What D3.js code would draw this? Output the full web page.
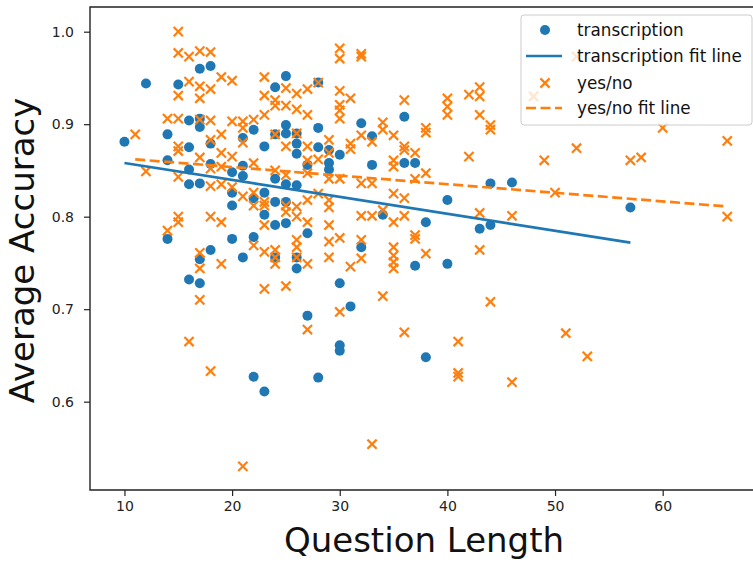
<!doctype html>
<html>
<head>
<meta charset="utf-8">
<title>Accuracy vs question length</title>
<script src="https://cdn.jsdelivr.net/npm/d3@7"></script>
<style>
  body { margin: 0; background: #fff; }
  svg { font-family: "DejaVu Sans", sans-serif; }
</style>
</head>
<body>
<svg width="753" height="562"></svg>
<script>
// transcription questions: length / accuracy
var transX = [10, 12, 14, 14, 14, 15, 16, 16, 16, 16, 16, 17, 17, 17, 17, 17, 17, 18, 18, 18, 18,
  20, 20, 20, 20, 21, 21, 21, 21, 22, 22, 22, 22, 23, 23, 23, 23, 24, 24, 24, 24, 24, 24,
  25, 25, 25, 25, 25, 25, 26, 26, 26, 26, 26, 26, 27, 27, 27, 28, 28, 28, 28, 29, 29, 29,
  30, 30, 30, 30, 31, 32, 32, 33, 33, 34, 36, 36, 37, 37, 38, 38, 40, 40, 43, 44, 44, 46, 57];
var transY = [0.881, 0.944, 0.889, 0.861, 0.776, 0.943, 0.904, 0.875, 0.851, 0.835, 0.732,
  0.960, 0.906, 0.897, 0.836, 0.754, 0.728, 0.963, 0.879, 0.857, 0.764,
  0.848, 0.826, 0.812, 0.776, 0.885, 0.855, 0.844, 0.756, 0.894, 0.820, 0.778, 0.627,
  0.876, 0.826, 0.802, 0.611, 0.940, 0.889, 0.841, 0.816, 0.791, 0.756,
  0.952, 0.899, 0.890, 0.835, 0.816, 0.793, 0.890, 0.879, 0.868, 0.834, 0.756, 0.744,
  0.856, 0.782, 0.693, 0.945, 0.896, 0.875, 0.626, 0.872, 0.858, 0.851,
  0.867, 0.728, 0.661, 0.655, 0.703, 0.901, 0.767, 0.887, 0.856, 0.802, 0.908, 0.858,
  0.858, 0.747, 0.794, 0.648, 0.818, 0.749, 0.787, 0.836, 0.791, 0.837, 0.810];

// yes/no questions
var ynX = [11, 12, 14, 14,
  15, 15, 15, 15, 15, 15, 15, 15, 15,
  16, 16, 16,
  17, 17, 17, 17, 17, 17, 17, 17,
  18, 18, 18, 18, 18, 18, 18, 18,
  19, 19, 19, 19, 19, 19, 19,
  20, 20, 20, 20,
  21, 21, 21, 21, 21,
  22, 22, 22, 22, 22,
  23, 23, 23, 23, 23, 23, 23, 23,
  24, 24, 24, 24, 24, 24, 24,
  25, 25, 25, 25, 25, 25, 25,
  26, 26, 26, 26, 26, 26, 26, 26,
  27, 27, 27, 27, 27, 27, 27, 27, 27,
  28, 28, 28,
  29, 29, 29, 29, 29, 29, 29, 29,
  30, 30, 30, 30, 30, 30, 30, 30, 30,
  31, 31, 31, 31,
  32, 32, 32, 32, 32, 32, 32,
  33, 33, 33, 33,
  34, 34, 34, 34,
  35, 35, 35, 35, 35, 35, 35, 35, 35,
  36, 36, 36, 36, 36, 36,
  37, 37, 37, 37,
  38, 38, 38, 38,
  40, 40, 40,
  41, 41, 41,
  42, 42,
  43, 43, 43, 43, 43,
  44, 44, 44,
  46, 46, 48, 49, 50, 51, 52, 52, 53, 57, 58, 60, 66, 66];
var ynY = [0.889, 0.849, 0.906, 0.785,
  1.000, 0.977, 0.931, 0.906, 0.876, 0.871, 0.843, 0.800, 0.794,
  0.973, 0.946, 0.665,
  0.979, 0.941, 0.928, 0.905, 0.864, 0.761, 0.744, 0.710,
  0.978, 0.938, 0.904, 0.883, 0.852, 0.833, 0.800, 0.633,
  0.951, 0.889, 0.869, 0.854, 0.835, 0.794, 0.749,
  0.947, 0.903, 0.865, 0.832,
  0.903, 0.896, 0.880, 0.822, 0.530,
  0.905, 0.858, 0.826, 0.812, 0.769,
  0.951, 0.931, 0.910, 0.816, 0.812, 0.791, 0.762, 0.722,
  0.926, 0.920, 0.889, 0.850, 0.764, 0.756, 0.749,
  0.939, 0.920, 0.876, 0.845, 0.812, 0.805, 0.725,
  0.933, 0.916, 0.890, 0.811, 0.800, 0.775, 0.767, 0.756,
  0.938, 0.910, 0.876, 0.861, 0.847, 0.818, 0.794, 0.749, 0.678,
  0.945, 0.862, 0.825,
  0.883, 0.869, 0.841, 0.818, 0.810, 0.791, 0.773, 0.756,
  0.982, 0.971, 0.936, 0.921, 0.915, 0.906, 0.841, 0.777, 0.697,
  0.928, 0.879, 0.873, 0.746,
  0.976, 0.973, 0.888, 0.836, 0.801, 0.775, 0.755,
  0.881, 0.836, 0.801, 0.554,
  0.902, 0.894, 0.807, 0.714,
  0.888, 0.861, 0.854, 0.825, 0.794, 0.767, 0.758, 0.751, 0.744,
  0.926, 0.876, 0.872, 0.820, 0.801, 0.675,
  0.869, 0.841, 0.780, 0.776,
  0.896, 0.891, 0.847, 0.760,
  0.928, 0.919, 0.910,
  0.665, 0.631, 0.627,
  0.932, 0.865,
  0.940, 0.930, 0.910, 0.804, 0.764,
  0.899, 0.894, 0.708,
  0.801, 0.621, 0.930, 0.861, 0.826, 0.674, 0.874, 0.973, 0.649, 0.861, 0.864, 0.896, 0.882, 0.800];

// fitted lines, end points
var transFitX = [10, 57];
var transFitY = [0.858, 0.772];
var ynFitX = [11, 66];
var ynFitY = [0.862, 0.811];

var xTicks = [10, 20, 30, 40, 50, 60];
var yTicks = [0.6, 0.7, 0.8, 0.9, 1.0];

(function() {
  var blue = "#1f77b4", orange = "#ff7f0e";

  var svg = d3.select("svg");
  var left = 90, right = 760, plotTop = 7, plotBottom = 490;

  var x = d3.scaleLinear().domain([6.8, 69.04]).range([left, right]);
  var y = d3.scaleLinear().domain([0.5045, 1.0267]).range([plotBottom, plotTop]);

  function pts(xs, ys) {
    return xs.map(function(v, i) { return { x: v, y: ys[i] }; });
  }

  // little "x" marker centred on cx,cy
  var h = 4.6;
  function crossPath(cx, cy) {
    return "M" + (cx - h) + "," + (cy - h) + "L" + (cx + h) + "," + (cy + h) +
      "M" + (cx - h) + "," + (cy + h) + "L" + (cx + h) + "," + (cy - h);
  }

  var plot = svg.append("g");

  // transcription dots
  plot.selectAll("circle.tr")
    .data(pts(transX, transY))
    .enter().append("circle")
    .attr("class", "tr")
    .attr("cx", function(d) { return x(d.x); })
    .attr("cy", function(d) { return y(d.y); })
    .attr("r", 5)
    .attr("fill", blue);

  // yes/no crosses
  plot.selectAll("path.yn")
    .data(pts(ynX, ynY))
    .enter().append("path")
    .attr("class", "yn")
    .attr("d", function(d) { return crossPath(x(d.x), y(d.y)); })
    .attr("stroke", orange)
    .attr("stroke-width", 2.2)
    .attr("fill", "none");

  var line = d3.line()
    .x(function(d) { return x(d.x); })
    .y(function(d) { return y(d.y); });

  plot.append("path")
    .attr("d", line(pts(transFitX, transFitY)))
    .attr("stroke", blue)
    .attr("stroke-width", 2.7)
    .attr("fill", "none");

  plot.append("path")
    .attr("d", line(pts(ynFitX, ynFitY)))
    .attr("stroke", orange)
    .attr("stroke-width", 2.7)
    .attr("stroke-dasharray", "10,4.5")
    .attr("fill", "none");

  // axes
  var xAxis = svg.append("g")
    .attr("transform", "translate(0," + plotBottom + ")")
    .call(d3.axisBottom(x).tickValues(xTicks).tickSize(6).tickPadding(5).tickFormat(d3.format("d")));
  var yAxis = svg.append("g")
    .attr("transform", "translate(" + left + ",0)")
    .call(d3.axisLeft(y).tickValues(yTicks).tickSize(6).tickPadding(10).tickFormat(d3.format(".1f")));

  [xAxis, yAxis].forEach(function(g) {
    g.selectAll("text").attr("font-size", 14).attr("fill", "#222").attr("font-family", "DejaVu Sans");
    g.selectAll("line").attr("stroke", "#222").attr("stroke-width", 1.2);
    g.select(".domain").remove();
  });

  // frame (right side falls outside the picture)
  svg.append("path")
    .attr("d", "M" + right + "," + plotTop + "H" + left + "V" + plotBottom + "H" + right)
    .attr("stroke", "#222")
    .attr("stroke-width", 1.4)
    .attr("fill", "none");

  svg.append("text")
    .attr("x", 424)
    .attr("y", 552)
    .attr("text-anchor", "middle")
    .attr("font-size", 34)
    .attr("fill", "#111")
    .text("Question Length");

  svg.append("text")
    .attr("transform", "translate(34," + ((plotTop + plotBottom) / 2 + 2) + ") rotate(-90)")
    .attr("text-anchor", "middle")
    .attr("font-size", 34)
    .attr("fill", "#111")
    .text("Average Accuracy");

  // legend
  var lg = svg.append("g");
  lg.append("rect")
    .attr("x", 521).attr("y", 15)
    .attr("width", 231).attr("height", 110)
    .attr("rx", 3)
    .attr("fill", "#fff").attr("fill-opacity", 0.8)
    .attr("stroke", "#ccc");

  var legendItems = ["transcription", "transcription fit line", "yes/no", "yes/no fit line"];
  var rowY = [30, 56, 83, 108];
  legendItems.forEach(function(name, i) {
    var cy = rowY[i];
    if (i === 0) {
      lg.append("circle").attr("cx", 545).attr("cy", cy).attr("r", 5).attr("fill", blue);
    } else if (i === 2) {
      lg.append("path").attr("d", crossPath(545, cy))
        .attr("stroke", orange).attr("stroke-width", 2.2);
    } else {
      lg.append("line")
        .attr("x1", 526).attr("x2", 562).attr("y1", cy).attr("y2", cy)
        .attr("stroke", i === 1 ? blue : orange)
        .attr("stroke-width", 2.7)
        .attr("stroke-dasharray", i === 3 ? "10,4.5" : null);
    }
    lg.append("text")
      .attr("x", 577).attr("y", cy)
      .attr("dy", "0.35em")
      .attr("font-size", 16.8)
      .attr("fill", "#111")
      .text(name);
  });
})();
</script>
</body>
</html>
